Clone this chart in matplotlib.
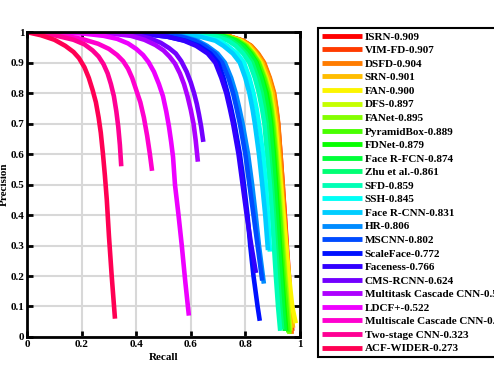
import matplotlib
matplotlib.use('Agg')
import numpy as np
import matplotlib.pyplot as plt

plt.rcParams['font.family'] = ['Liberation Serif', 'DejaVu Serif']
plt.rcParams['font.weight'] = 'bold'

# method names and AP scores (legend order)
names = ['ISRN', 'VIM-FD', 'DSFD', 'SRN', 'FAN', 'DFS', 'FANet', 'PyramidBox',
         'FDNet', 'Face R-FCN', 'Zhu et al.', 'SFD', 'SSH', 'Face R-CNN', 'HR',
         'MSCNN', 'ScaleFace', 'Faceness', 'CMS-RCNN', 'Multitask Cascade CNN',
         'LDCF+', 'Multiscale Cascade CNN', 'Two-stage CNN', 'ACF-WIDER']
scores = ['0.909', '0.907', '0.904', '0.901', '0.900', '0.897', '0.895', '0.889',
          '0.879', '0.874', '0.861', '0.859', '0.845', '0.831', '0.806',
          '0.802', '0.772', '0.766', '0.624', '0.596',
          '0.522', '0.471', '0.323', '0.273']

# precision levels at which the recall of the strong detectors was read
p_hi = [1, 0.998, 0.993, 0.985, 0.972, 0.955, 0.93, 0.9, 0.85, 0.8, 0.75, 0.7,
        0.6, 0.5, 0.4, 0.3, 0.2, 0.1]

isrn_r = [0, 0.5, 0.66, 0.745, 0.79, 0.82, 0.845, 0.867, 0.888, 0.904, 0.913, 0.92, 0.929, 0.937, 0.945, 0.952, 0.96, 0.966]
isrn_end = (0.972, 0.02)
vimfd_r = [0, 0.5, 0.66, 0.745, 0.79, 0.82, 0.844, 0.866, 0.887, 0.903, 0.911, 0.918, 0.927, 0.935, 0.942, 0.949, 0.955, 0.962]
vimfd_end = (0.968, 0.015)
dsfd_r = [0, 0.5, 0.66, 0.745, 0.792, 0.822, 0.847, 0.869, 0.89, 0.906, 0.914, 0.921, 0.929, 0.937, 0.944, 0.951, 0.957, 0.963]
dsfd_end = (0.97, 0.01)
srn_r = [0, 0.5, 0.66, 0.745, 0.787, 0.816, 0.84, 0.862, 0.884, 0.9, 0.908, 0.915, 0.924, 0.932, 0.94, 0.948, 0.956, 0.965]
srn_end = (0.975, 0.03)
fan_r = [0, 0.5, 0.65, 0.735, 0.78, 0.81, 0.834, 0.856, 0.877, 0.893, 0.902, 0.91, 0.92, 0.93, 0.94, 0.95, 0.96, 0.972]
fan_end = (0.985, 0.045)
dfs_r = [0, 0.5, 0.65, 0.735, 0.777, 0.806, 0.83, 0.853, 0.874, 0.89, 0.899, 0.906, 0.916, 0.925, 0.933, 0.94, 0.948, 0.957]
dfs_end = (0.965, 0.02)
fanet_r = [0, 0.5, 0.65, 0.735, 0.776, 0.805, 0.828, 0.85, 0.871, 0.887, 0.896, 0.903, 0.913, 0.921, 0.929, 0.937, 0.945, 0.954]
fanet_end = (0.962, 0.01)
pyramid_r = [0, 0.5, 0.65, 0.735, 0.772, 0.8, 0.825, 0.848, 0.868, 0.884, 0.893, 0.9, 0.91, 0.918, 0.926, 0.933, 0.94, 0.95]
pyramid_end = (0.958, 0.015)
fdnet_r = [0, 0.5, 0.64, 0.725, 0.766, 0.795, 0.82, 0.842, 0.862, 0.878, 0.888, 0.895, 0.905, 0.913, 0.92, 0.927, 0.935, 0.943]
fdnet_end = (0.95, 0.02)
rfcn_r = [0, 0.5, 0.64, 0.725, 0.762, 0.79, 0.815, 0.838, 0.857, 0.872, 0.882, 0.89, 0.9, 0.908, 0.915, 0.922, 0.93, 0.938]
rfcn_end = (0.945, 0.02)
zhu_r = [0, 0.5, 0.63, 0.715, 0.75, 0.776, 0.802, 0.825, 0.845, 0.86, 0.87, 0.878, 0.888, 0.897, 0.905, 0.912, 0.92, 0.928]
zhu_end = (0.935, 0.025)
sfd_r = [0, 0.5, 0.61, 0.695, 0.737, 0.765, 0.792, 0.815, 0.835, 0.85, 0.861, 0.87, 0.88, 0.89, 0.898, 0.905, 0.912, 0.92]
sfd_end = (0.928, 0.02)
ssh_r = [0, 0.45, 0.56, 0.645, 0.705, 0.735, 0.77, 0.795, 0.815, 0.83, 0.841, 0.85, 0.865, 0.875, 0.883]
ssh_end = (0.89, 0.28)
frcnn_r = [0, 0.45, 0.55, 0.635, 0.69, 0.72, 0.754, 0.78, 0.8, 0.815, 0.826, 0.835, 0.85, 0.862, 0.873]
frcnn_end = (0.883, 0.285)
hr_r = [0, 0.4, 0.5, 0.575, 0.625, 0.66, 0.698, 0.725, 0.748, 0.765, 0.778, 0.79, 0.81, 0.825, 0.838, 0.85]
hr_end = (0.868, 0.175)
mscnn_r = [0, 0.4, 0.49, 0.565, 0.615, 0.65, 0.688, 0.715, 0.738, 0.755, 0.768, 0.78, 0.8, 0.815, 0.83, 0.845]
mscnn_end = (0.862, 0.185)
scaleface_r = [0, 0.35, 0.44, 0.515, 0.58, 0.63, 0.672, 0.7, 0.72, 0.735, 0.748, 0.76, 0.78, 0.795, 0.808, 0.818, 0.83, 0.845]
scaleface_end = (0.853, 0.053)
faceness_r = [0, 0.35, 0.44, 0.515, 0.575, 0.62, 0.662, 0.69, 0.712, 0.73, 0.743, 0.755, 0.775, 0.79, 0.805, 0.822]
faceness_end = (0.839, 0.21)

# weaker detectors, read point by point
cms_r = [0, 0.3, 0.4, 0.45, 0.49, 0.52, 0.545, 0.565, 0.585, 0.6, 0.612, 0.622, 0.63, 0.638, 0.646]
cms_p = [1, 0.998, 0.99, 0.98, 0.965, 0.948, 0.93, 0.905, 0.87, 0.835, 0.8, 0.765, 0.73, 0.69, 0.64]
mtcnn_r = [0, 0.3, 0.38, 0.43, 0.47, 0.5, 0.522, 0.542, 0.56, 0.575, 0.588, 0.6, 0.61, 0.618, 0.626]
mtcnn_p = [1, 0.996, 0.988, 0.975, 0.958, 0.94, 0.92, 0.897, 0.865, 0.83, 0.79, 0.745, 0.7, 0.645, 0.575]
ldcf_r = [0, 0.2, 0.28, 0.33, 0.37, 0.4, 0.425, 0.445, 0.465, 0.483, 0.498, 0.51, 0.52, 0.528, 0.535, 0.542, 0.555, 0.567, 0.58, 0.593]
ldcf_p = [1, 0.996, 0.988, 0.978, 0.963, 0.945, 0.925, 0.902, 0.87, 0.83, 0.79, 0.74, 0.69, 0.64, 0.59, 0.5, 0.4, 0.3, 0.18, 0.07]
mscale_r = [0, 0.1, 0.2, 0.26, 0.3, 0.33, 0.352, 0.37, 0.385, 0.4, 0.415, 0.428, 0.44, 0.45, 0.458]
mscale_p = [1, 0.994, 0.978, 0.962, 0.945, 0.925, 0.905, 0.88, 0.85, 0.81, 0.77, 0.72, 0.66, 0.6, 0.545]
twostage_r = [0, 0.1, 0.17, 0.21, 0.24, 0.262, 0.28, 0.295, 0.307, 0.318, 0.327, 0.334, 0.34, 0.345]
twostage_p = [1, 0.99, 0.975, 0.96, 0.94, 0.92, 0.895, 0.865, 0.83, 0.79, 0.74, 0.69, 0.63, 0.56]
acf_r = [0, 0.05, 0.1, 0.14, 0.17, 0.19, 0.21, 0.226, 0.24, 0.252, 0.262, 0.27, 0.278, 0.285, 0.292, 0.3, 0.31, 0.322]
acf_p = [1, 0.99, 0.975, 0.955, 0.935, 0.915, 0.885, 0.85, 0.81, 0.77, 0.72, 0.67, 0.6, 0.53, 0.45, 0.33, 0.2, 0.06]

hi_curves = [(isrn_r, isrn_end), (vimfd_r, vimfd_end), (dsfd_r, dsfd_end),
             (srn_r, srn_end), (fan_r, fan_end), (dfs_r, dfs_end),
             (fanet_r, fanet_end), (pyramid_r, pyramid_end), (fdnet_r, fdnet_end),
             (rfcn_r, rfcn_end), (zhu_r, zhu_end), (sfd_r, sfd_end),
             (ssh_r, ssh_end), (frcnn_r, frcnn_end), (hr_r, hr_end),
             (mscnn_r, mscnn_end), (scaleface_r, scaleface_end),
             (faceness_r, faceness_end)]

recalls = []
precisions = []
for r, end in hi_curves:
  recalls.append(r + [end[0]])
  precisions.append(p_hi[:len(r)] + [end[1]])
for r, p in [(cms_r, cms_p), (mtcnn_r, mtcnn_p), (ldcf_r, ldcf_p),
             (mscale_r, mscale_p), (twostage_r, twostage_p), (acf_r, acf_p)]:
  recalls.append(r)
  precisions.append(p)

colors = plt.cm.hsv(np.arange(len(names)) / len(names))

fig = plt.figure(figsize=(4.94, 3.74), dpi=100)
ax = fig.add_axes([0.055, 0.099, 0.552, 0.815])

lines = []
for i in range(len(names)):
  l, = ax.plot(recalls[i], precisions[i], color=colors[i], lw=3.3,
               solid_capstyle='butt', solid_joinstyle='round',
               label=f'{names[i]}-{scores[i]}')
  lines.append(l)

ax.set_xlim(0, 1)
ax.set_ylim(0, 1)
ax.set_xticks([0, 0.2, 0.4, 0.6, 0.8, 1])
ax.set_xticklabels(['0', '0.2', '0.4', '0.6', '0.8', '1'])
ax.set_yticks(np.arange(0, 1.01, 0.1))
ax.set_yticklabels(['0', '0.1', '0.2', '0.3', '0.4', '0.5', '0.6', '0.7', '0.8', '0.9', '1'])
ax.grid(True, color='#d8d8d8', lw=1.5)
ax.set_axisbelow(True)
for s in ax.spines.values():
  s.set_linewidth(2)
ax.tick_params(direction='in', length=4, width=2, top=True, right=True,
               labelsize=8, pad=2)
for t in ax.get_xticklabels() + ax.get_yticklabels():
  t.set_fontweight('bold')
ax.set_xlabel('Recall', fontsize=8, fontweight='bold', labelpad=3)
ax.set_ylabel('Precision', fontsize=8, fontweight='bold', labelpad=1)

leg = fig.legend(handles=lines, loc='upper left', bbox_to_anchor=(0.644, 0.925),
                 prop={'weight': 'bold', 'size': 8},
                 handlelength=3.6, handletextpad=0.25, labelspacing=0.34,
                 borderpad=0.35, fancybox=False, framealpha=1,
                 edgecolor='black', borderaxespad=0)
leg.get_frame().set_linewidth(1.5)
for h in leg.legend_handles:
  h.set_linewidth(3.5)

fig.savefig('out.png', dpi=100)
